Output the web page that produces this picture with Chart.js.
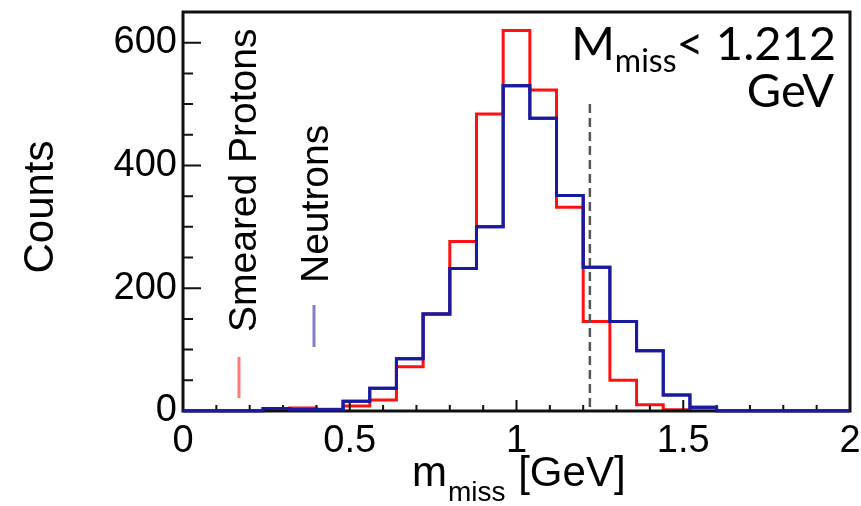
<!DOCTYPE html>
<html>
<head>
<meta charset="utf-8">
<script src="https://cdn.jsdelivr.net/npm/chart.js@4.4.0/dist/chart.umd.min.js"></script>
<style>
  html, body { margin: 0; padding: 0; background: #fff; }
</style>
</head>
<body>
<canvas id="myChart" width="861" height="506"></canvas>
<script>
// bin edges in GeV (0.08 wide), last entry closes the final bin
var binEdges = [0, 0.08, 0.16, 0.24, 0.32, 0.40, 0.48, 0.56, 0.64, 0.72, 0.80, 0.88, 0.96,
                1.04, 1.12, 1.20, 1.28, 1.36, 1.44, 1.52, 1.60, 1.68, 1.76, 1.84, 1.92, 2.00];
// counts per bin
var protonCounts  = [0, 0, 0, 0, 5, 3, 8, 18, 72, 158, 276, 484, 620, 523, 332, 146, 50, 10, 2, 0, 0, 0, 0, 0, 0];
var neutronCounts = [0, 0, 0, 4, 2, 2, 16, 37, 85, 158, 232, 300, 530, 477, 351, 234, 146, 98, 26, 6, 0, 0, 0, 0, 0];
var xTickLabels = [0, 0.5, 1, 1.5, 2];
var yTickLabels = [0, 200, 400, 600];
var cutValue = 1.22;
var cutTop = 500;

var font = "'Liberation Sans', Arial, sans-serif";

// turn counts into step points (left edge of every bin + closing edge)
function toSteps(counts) {
    var pts = [];
    for (var i = 0; i < counts.length; i++) {
        pts.push({ x: binEdges[i], y: counts[i] });
    }
    pts.push({ x: binEdges[counts.length], y: counts[counts.length - 1] });
    return pts;
}

function noPad(s) {
    s.paddingLeft = 0; s.paddingRight = 0; s.paddingTop = 0; s.paddingBottom = 0;
}

// frame, inward ticks and cut line
var framePlugin = {
    id: 'frame',
    afterDatasetsDraw: function (chart) {
        var ctx = chart.ctx, a = chart.chartArea;
        var xs = chart.scales.x, ys = chart.scales.y;
        ctx.save();
        // cut line
        ctx.strokeStyle = '#555';
        ctx.lineWidth = 2.5;
        ctx.setLineDash([9, 5]);
        ctx.beginPath();
        ctx.moveTo(xs.getPixelForValue(cutValue), ys.getPixelForValue(cutTop));
        ctx.lineTo(xs.getPixelForValue(cutValue), a.bottom);
        ctx.stroke();
        ctx.setLineDash([]);

        ctx.strokeStyle = '#111';
        ctx.lineWidth = 3;
        ctx.strokeRect(a.left, a.top, a.right - a.left, a.bottom - a.top);

        ctx.lineWidth = 2;
        ctx.beginPath();
        for (var v = 0; v <= 20; v++) {
            var px = xs.getPixelForValue(v / 10);
            var len = (v % 5 === 0) ? 11 : 6;
            ctx.moveTo(px, a.bottom);
            ctx.lineTo(px, a.bottom - len);
        }
        for (var c = 0; c <= 650; c += 50) {
            var py = ys.getPixelForValue(c);
            var l = (c % 200 === 0) ? 18 : 10;
            ctx.moveTo(a.left, py);
            ctx.lineTo(a.left + l, py);
        }
        ctx.stroke();

        // neutrons again on top of the bottom frame
        var meta = chart.getDatasetMeta(0);
        ctx.beginPath();
        ctx.rect(a.left, a.top - 2, a.right - a.left, a.bottom - a.top + 4);
        ctx.clip();
        meta.dataset.draw(ctx, a);
        ctx.restore();
    },
    afterDraw: function (chart) {
        var ctx = chart.ctx;
        ctx.save();
        ctx.fillStyle = '#000';

        // rotated texts
        function vtext(txt, x, y, size) {
            ctx.save();
            ctx.translate(x, y);
            ctx.rotate(-Math.PI / 2);
            ctx.font = size + 'px ' + font;
            ctx.textBaseline = 'alphabetic';
            ctx.textAlign = 'left';
            ctx.fillText(txt, 0, 0);
            ctx.restore();
        }
        ctx.save();
        ctx.translate(53, 207);
        ctx.rotate(-Math.PI / 2);
        ctx.font = '42px ' + font;
        ctx.textAlign = 'center';
        ctx.fillText('Counts', 0, 0);
        ctx.restore();

        vtext('Smeared Protons', 256, 332, 39);
        vtext('Neutrons', 328, 283, 39);

        // legend lines
        ctx.lineWidth = 3;
        ctx.strokeStyle = '#ff7b7b';
        ctx.beginPath(); ctx.moveTo(239, 357); ctx.lineTo(239, 398); ctx.stroke();
        ctx.strokeStyle = '#7f7fcc';
        ctx.beginPath(); ctx.moveTo(314, 305); ctx.lineTo(314, 347); ctx.stroke();

        // x axis title with subscript
        ctx.textAlign = 'left';
        ctx.font = '42px ' + font;
        var x0 = 412;
        ctx.fillText('m', x0, 486);
        var w = ctx.measureText('m').width;
        ctx.font = '28px ' + font;
        ctx.fillText('miss', x0 + w + 1, 501);
        var w2 = ctx.measureText('miss').width;
        ctx.font = '42px ' + font;
        ctx.fillText(' [GeV]', x0 + w + w2 + 2, 486);

        // cut label, top right
        var big = "47px Lato, 'Open Sans', sans-serif";
        var small = "32px Lato, 'Open Sans', sans-serif";
        ctx.font = big;
        var wM = ctx.measureText('M').width;
        var wR = ctx.measureText('< 1.212').width;
        ctx.font = small;
        var wS = ctx.measureText('miss').width;
        var start = 836 - (wM + wS + wR);
        ctx.font = big;
        ctx.fillText('M', start, 60);
        ctx.font = small;
        ctx.fillText('miss', start + wM, 72);
        ctx.font = big;
        ctx.fillText('< 1.212', start + wM + wS, 60);
        ctx.textAlign = 'right';
        ctx.fillText('GeV', 834, 107);
        ctx.restore();
    }
};

var ctx = document.getElementById('myChart').getContext('2d');
var chart = new Chart(ctx, {
    type: 'line',
    data: {
        datasets: [{
            label: 'Neutrons',
            data: toSteps(neutronCounts),
            borderColor: '#1a1aa0',
            borderWidth: 3,
            stepped: 'before',
            pointRadius: 0,
            fill: false
        }, {
            label: 'Smeared Protons',
            data: toSteps(protonCounts),
            borderColor: '#ff1010',
            borderWidth: 3,
            stepped: 'before',
            pointRadius: 0,
            fill: false
        }]
    },
    options: {
        responsive: false,
        animation: false,
        devicePixelRatio: 1,
        layout: { padding: { top: 12, right: 11, left: 0, bottom: 0 } },
        plugins: { legend: { display: false }, tooltip: { enabled: false } },
        scales: {
            x: {
                type: 'linear',
                min: 0,
                max: 2,
                afterFit: function (s) { s.height = 95; noPad(s); },
                afterBuildTicks: function (s) {
                    s.ticks = xTickLabels.map(function (v) { return { value: v }; });
                },
                grid: { display: false, drawTicks: false },
                border: { display: false },
                ticks: {
                    padding: 8,
                    color: '#000',
                    maxRotation: 0,
                    font: { family: font, size: 38 },
                    callback: function (v) { return String(v); }
                }
            },
            y: {
                type: 'linear',
                min: 0,
                max: 650,
                afterFit: function (s) { s.width = 183; noPad(s); },
                afterBuildTicks: function (s) {
                    s.ticks = yTickLabels.map(function (v) { return { value: v }; });
                },
                grid: { display: false, drawTicks: false },
                border: { display: false },
                ticks: {
                    padding: 6,
                    color: '#000',
                    font: { family: font, size: 38 },
                    callback: function (v) { return String(v); }
                }
            }
        }
    },
    plugins: [framePlugin]
});
</script>
</body>
</html>
